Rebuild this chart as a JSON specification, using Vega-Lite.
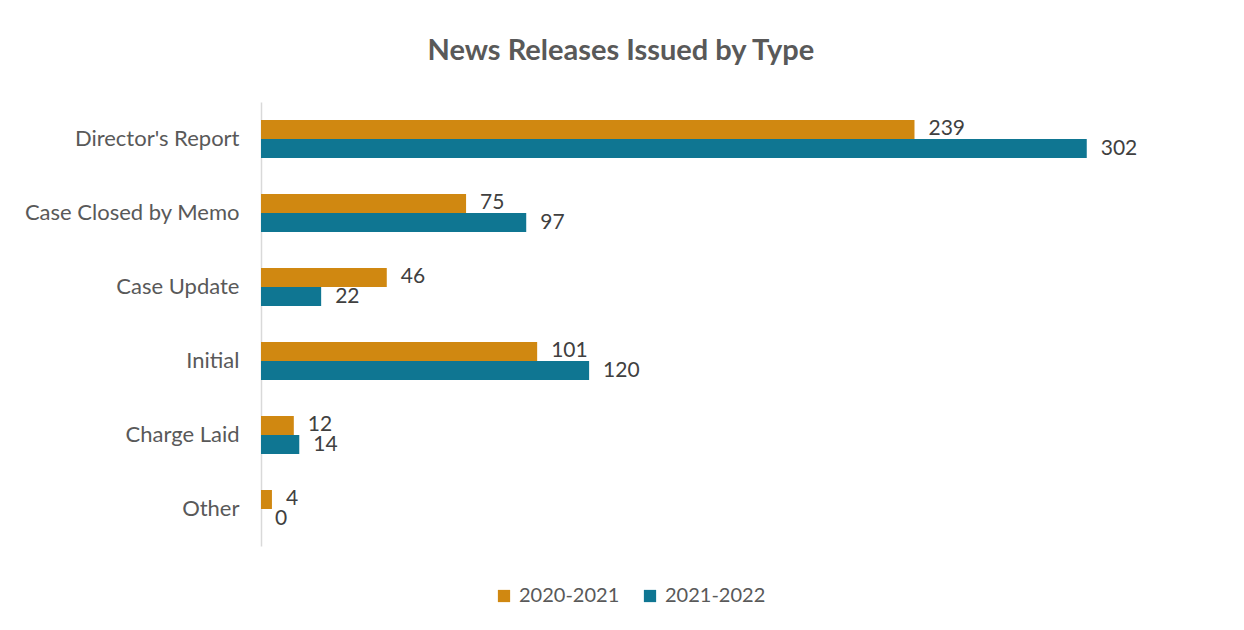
{
  "$schema": "https://vega.github.io/schema/vega-lite/v6.json",
  "width": 957,
  "height": 444,
  "autosize": {"type": "none"},
  "padding": {"left": 261, "top": 102, "right": 26, "bottom": 84},
  "background": "white",
  "title": {
    "text": "News Releases Issued by Type",
    "font": "Lato",
    "fontSize": 29,
    "fontWeight": "bold",
    "color": "#595959",
    "anchor": "middle",
    "frame": "bounds",
    "offset": 36
  },
  "config": {
    "view": {"stroke": null},
    "font": "Lato"
  },
  "data": {
    "values": [
      {"type": "Director's Report", "year": "2020-2021", "count": 239},
      {"type": "Director's Report", "year": "2021-2022", "count": 302},
      {"type": "Case Closed by Memo", "year": "2020-2021", "count": 75},
      {"type": "Case Closed by Memo", "year": "2021-2022", "count": 97},
      {"type": "Case Update", "year": "2020-2021", "count": 46},
      {"type": "Case Update", "year": "2021-2022", "count": 22},
      {"type": "Initial", "year": "2020-2021", "count": 101},
      {"type": "Initial", "year": "2021-2022", "count": 120},
      {"type": "Charge Laid", "year": "2020-2021", "count": 12},
      {"type": "Charge Laid", "year": "2021-2022", "count": 14},
      {"type": "Other", "year": "2020-2021", "count": 4},
      {"type": "Other", "year": "2021-2022", "count": 0}
    ]
  },
  "encoding": {
    "y": {
      "field": "type",
      "type": "nominal",
      "sort": ["Director's Report", "Case Closed by Memo", "Case Update", "Initial", "Charge Laid", "Other"],
      "scale": {"paddingInner": 0.486, "paddingOuter": 0.243},
      "axis": {
        "title": null,
        "domainColor": "#D9D9D9",
        "domainWidth": 1.5,
        "ticks": false,
        "labelFont": "Lato",
        "labelFontSize": 22,
        "labelColor": "#595959",
        "labelPadding": 22,
        "labelLimit": 400
      }
    },
    "yOffset": {
      "field": "year",
      "type": "nominal",
      "scale": {"domain": ["2020-2021", "2021-2022"], "paddingInner": 0, "paddingOuter": 0}
    },
    "x": {
      "field": "count",
      "type": "quantitative",
      "scale": {"domain": [0, 350], "nice": false},
      "axis": null
    }
  },
  "layer": [
    {
      "mark": {"type": "bar"},
      "encoding": {
        "color": {
          "field": "year",
          "type": "nominal",
          "scale": {"domain": ["2020-2021", "2021-2022"], "range": ["#D08811", "#0F7692"]},
          "legend": {
            "title": null,
            "orient": "none",
            "direction": "horizontal",
            "legendX": 233,
            "legendY": 484,
            "symbolType": "square",
            "symbolSize": 150,
            "symbolStrokeWidth": 0,
            "symbolOpacity": 1,
            "labelFont": "Lato",
            "labelFontSize": 20,
            "labelColor": "#595959",
            "labelOffset": 5,
            "columnPadding": 20
          }
        }
      }
    },
    {
      "mark": {"type": "text", "align": "left", "baseline": "middle", "dx": 14, "fontSize": 21, "color": "#404040", "font": "Lato"},
      "encoding": {
        "text": {"field": "count", "type": "quantitative"}
      }
    }
  ]
}
